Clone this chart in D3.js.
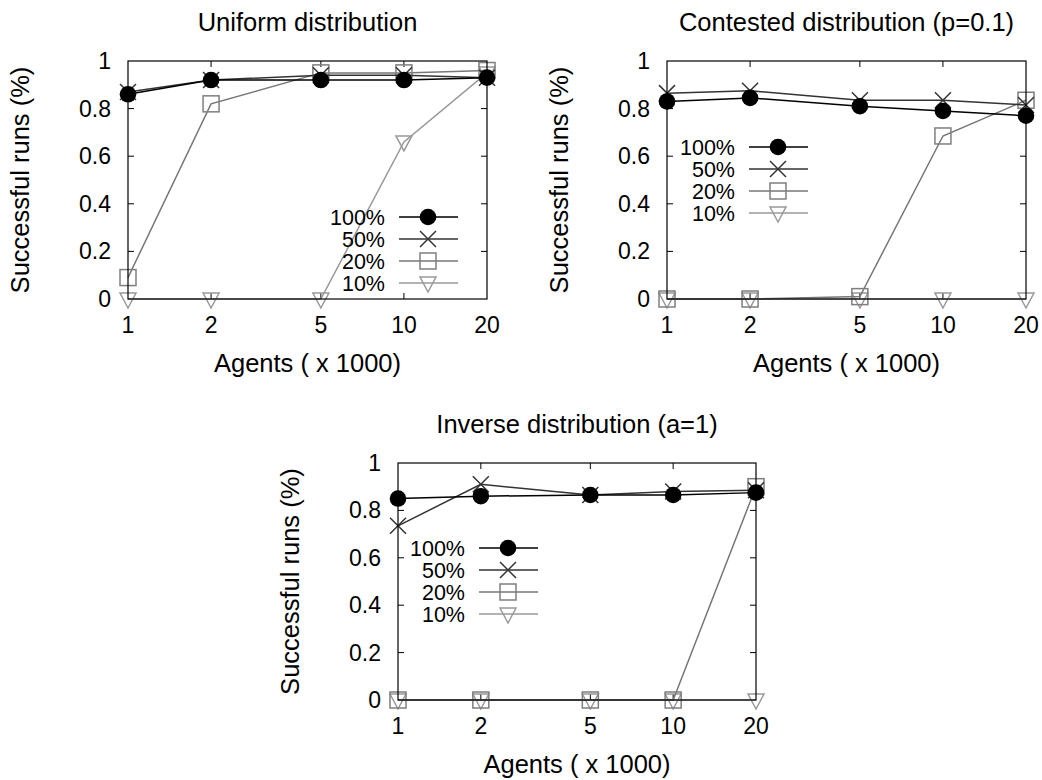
<!DOCTYPE html>
<html>
<head>
<meta charset="utf-8">
<script src="https://cdn.jsdelivr.net/npm/d3@7/dist/d3.min.js"></script>
<style>
  body { margin: 0; background: #fff; }
  svg text { font-family: "Liberation Sans", Arial, sans-serif; fill: #000; }
</style>
</head>
<body>
<div id="chart"></div>
<script>
// agents (x 1000) on a log axis
const agents = [1, 2, 5, 10, 20];
const yTicks = [0, 0.2, 0.4, 0.6, 0.8, 1];
const seriesNames = ["100%", "50%", "20%", "10%"];

// Uniform distribution
const uniform100 = [0.86, 0.92, 0.92, 0.92, 0.93];
const uniform50 = [0.87, 0.92, 0.94, 0.94, 0.93];
const uniform20 = [0.09, 0.82, 0.95, 0.95, 0.96];
const uniform10 = [0, 0, 0, 0.66, 0.95];

// Contested distribution (p=0.1)
const contested100 = [0.83, 0.845, 0.81, 0.79, 0.77];
const contested50 = [0.865, 0.875, 0.835, 0.835, 0.815];
const contested20 = [0, 0, 0.01, 0.685, 0.835];
const contested10 = [0, 0, 0, 0, 0];

// Inverse distribution (a=1)
const inverse100 = [0.85, 0.86, 0.865, 0.865, 0.875];
const inverse50 = [0.735, 0.91, 0.865, 0.88, 0.885];
const inverse20 = [0, 0, 0, 0, 0.9];
const inverse10 = [0, 0, 0, 0, 0];

const styles = [
  { line: "#000", mark: "#000", sym: "circle" },
  { line: "#333", mark: "#333", sym: "cross" },
  { line: "#777", mark: "#7f7f7f", sym: "square" },
  { line: "#999", mark: "#999", sym: "tri" }
];

const panels = [
  { title: "Uniform distribution", left: 128, top: 61, w: 359, h: 238,
    series: [uniform100, uniform50, uniform20, uniform10], legX: 385, legY: 217 },
  { title: "Contested distribution (p=0.1)", left: 667, top: 61, w: 359, h: 238,
    series: [contested100, contested50, contested20, contested10], legX: 735, legY: 147 },
  { title: "Inverse distribution (a=1)", left: 398, top: 463, w: 358, h: 237,
    series: [inverse100, inverse50, inverse20, inverse10], legX: 465, legY: 548 }
];

const svg = d3.select("#chart").append("svg")
  .attr("width", 1042).attr("height", 780);

const labelSize = 25.5, tickSize = 23, legendSize = 21.5;

function drawMark(g, sym, x, y, color) {
  if (sym === "circle") {
    g.append("circle").attr("cx", x).attr("cy", y).attr("r", 8.3).attr("fill", color);
  } else if (sym === "cross") {
    const s = 8;
    g.append("path").attr("d", `M${x-s},${y-s}L${x+s},${y+s}M${x-s},${y+s}L${x+s},${y-s}`)
      .attr("stroke", color).attr("stroke-width", 1.5).attr("fill", "none");
  } else if (sym === "square") {
    g.append("rect").attr("x", x - 8).attr("y", y - 8).attr("width", 16).attr("height", 16)
      .attr("stroke", color).attr("stroke-width", 1.5).attr("fill", "none");
  } else {
    g.append("path").attr("d", `M${x-8},${y-6}L${x+8},${y-6}L${x},${y+9}Z`)
      .attr("stroke", color).attr("stroke-width", 1.5).attr("fill", "none");
  }
}

panels.forEach(p => {
  const g = svg.append("g").attr("transform", `translate(${p.left},${p.top})`);
  const x = d3.scaleLog().domain([1, 20]).range([0, p.w]);
  const y = d3.scaleLinear().domain([0, 1]).range([p.h, 0]);

  // mirrored inward ticks (gnuplot style)
  const tl = 6;
  agents.forEach(a => {
    if (a === 1 || a === 20) return;
    g.append("line").attr("x1", x(a)).attr("x2", x(a)).attr("y1", p.h).attr("y2", p.h - tl).attr("stroke", "#000");
    g.append("line").attr("x1", x(a)).attr("x2", x(a)).attr("y1", 0).attr("y2", tl).attr("stroke", "#000");
  });
  yTicks.forEach(t => {
    if (t === 0 || t === 1) return;
    g.append("line").attr("x1", 0).attr("x2", tl).attr("y1", y(t)).attr("y2", y(t)).attr("stroke", "#000");
    g.append("line").attr("x1", p.w).attr("x2", p.w - tl).attr("y1", y(t)).attr("y2", y(t)).attr("stroke", "#000");
  });

  // tick labels
  agents.forEach(a => {
    g.append("text").attr("x", x(a)).attr("y", p.h + 34).attr("text-anchor", "middle")
      .attr("font-size", tickSize).text(a);
  });
  yTicks.forEach(t => {
    g.append("text").attr("x", -17).attr("y", y(t) + 8).attr("text-anchor", "end")
      .attr("font-size", tickSize).text(t === 0 || t === 1 ? t : d3.format(".1f")(t));
  });

  // series
  const line = d3.line().x((d, i) => x(agents[i])).y(d => y(d));
  for (let k = p.series.length - 1; k >= 0; k--) {
    const st = styles[k];
    g.append("path").attr("d", line(p.series[k])).attr("fill", "none")
      .attr("stroke", st.line).attr("stroke-width", 1.5);
    p.series[k].forEach((v, i) => drawMark(g, st.sym, x(agents[i]), y(v), st.mark));
  }

  // frame
  g.append("rect").attr("width", p.w).attr("height", p.h)
    .attr("fill", "none").attr("stroke", "#000").attr("stroke-width", 1.2);

  // legend
  seriesNames.forEach((name, k) => {
    const ly = p.legY + k * 22 - p.top;
    const lx = p.legX - p.left;
    g.append("text").attr("x", lx).attr("y", ly + 7.5).attr("text-anchor", "end")
      .attr("font-size", legendSize).text(name);
    g.append("line").attr("x1", lx + 14).attr("x2", lx + 73).attr("y1", ly).attr("y2", ly)
      .attr("stroke", styles[k].line).attr("stroke-width", 1.5);
    drawMark(g, styles[k].sym, lx + 43, ly, styles[k].mark);
  });

  // titles
  g.append("text").attr("x", p.w / 2).attr("y", -30).attr("text-anchor", "middle")
    .attr("font-size", labelSize).text(p.title);
  g.append("text").attr("x", p.w / 2).attr("y", p.h + 73).attr("text-anchor", "middle")
    .attr("font-size", labelSize).text("Agents ( x 1000)");
  g.append("text").attr("transform", `translate(-99,${p.h / 2}) rotate(-90)`)
    .attr("text-anchor", "middle").attr("font-size", labelSize).text("Successful runs (%)");
});
</script>
</body>
</html>
